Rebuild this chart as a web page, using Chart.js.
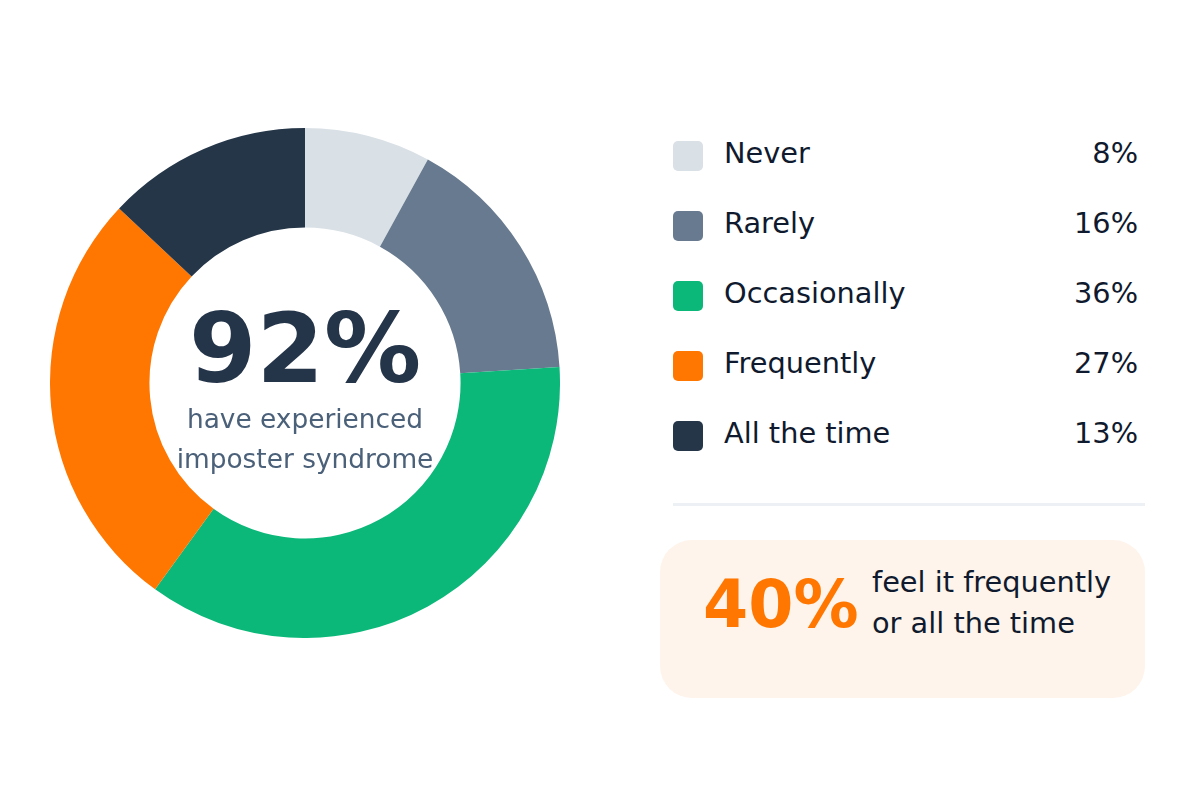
<!DOCTYPE html>
<html>
<head>
<meta charset="utf-8">
<script src="https://cdn.jsdelivr.net/npm/chart.js@4"></script>
<style>
  body { margin: 0; background: #fff; font-family: "DejaVu Sans", sans-serif; }
  #page { position: relative; width: 1200px; height: 800px; overflow: hidden; }
  #donut-wrap { position: absolute; left: 50px; top: 128px; width: 510px; height: 510px; }
  .center-big { position: absolute; left: 55px; width: 500px; top: 300px; text-align: center;
    font-size: 97px; line-height: 97px; font-weight: bold; color: #243449; }
  .center-sub { position: absolute; left: 105px; width: 400px; top: 399px; text-align: center;
    font-size: 26.4px; line-height: 40px; color: #4b6079; }
  #legend { position: absolute; left: 673px; top: 118px; width: 465px; }
  .row { position: relative; height: 70px; line-height: 70px; font-size: 28.8px; color: #101a2e; }
  .swatch { position: absolute; left: 0; top: 23px; width: 30px; height: 30px; border-radius: 5px; }
  .label { position: absolute; left: 51px; }
  .pct { position: absolute; right: 0; }
  .divider { position: absolute; left: 673px; top: 503px; width: 472px; height: 3px; background: #edf1f5; }
  .callout { position: absolute; left: 660px; top: 540px; width: 485px; height: 158px;
    border-radius: 32px; background: #fef4eb; }
  .callout-big { position: absolute; left: 703px; top: 572px; font-size: 65px; line-height: 65px;
    font-weight: bold; color: #ff7700; }
  .callout-text { position: absolute; left: 872px; top: 562px; font-size: 28.8px; line-height: 41px; color: #101a2e; }
</style>
</head>
<body>
<div id="page">
  <div id="donut-wrap"><canvas id="donut"></canvas></div>
  <div class="center-big">92%</div>
  <div class="center-sub">have experienced<br>imposter syndrome</div>
  <div id="legend"></div>
  <div class="divider"></div>
  <div class="callout"></div>
  <div class="callout-big">40%</div>
  <div class="callout-text">feel it frequently<br>or all the time</div>
</div>
<script>
const categories = ['Never', 'Rarely', 'Occasionally', 'Frequently', 'All the time'];
const shares = [8, 16, 36, 27, 13];
const sliceColors = ['#d9e0e6', '#687a8f', '#0bb87a', '#ff7700', '#253649'];

const legend = document.getElementById('legend');
categories.forEach((name, i) => {
  const row = document.createElement('div');
  row.className = 'row';
  row.innerHTML = '<span class="swatch" style="background:' + sliceColors[i] + '"></span>' +
    '<span class="label">' + name + '</span>' +
    '<span class="pct">' + shares[i] + '%</span>';
  legend.appendChild(row);
});

const donutChart = new Chart(document.getElementById('donut'), {
  type: 'doughnut',
  data: {
    labels: categories,
    datasets: [{
      data: shares,
      backgroundColor: sliceColors,
      borderWidth: 0
    }]
  },
  options: {
    responsive: true,
    maintainAspectRatio: false,
    animation: false,
    cutout: '61%',
    layout: { padding: 0 },
    plugins: {
      legend: { display: false },
      tooltip: { enabled: false }
    }
  }
});
</script>
</body>
</html>
